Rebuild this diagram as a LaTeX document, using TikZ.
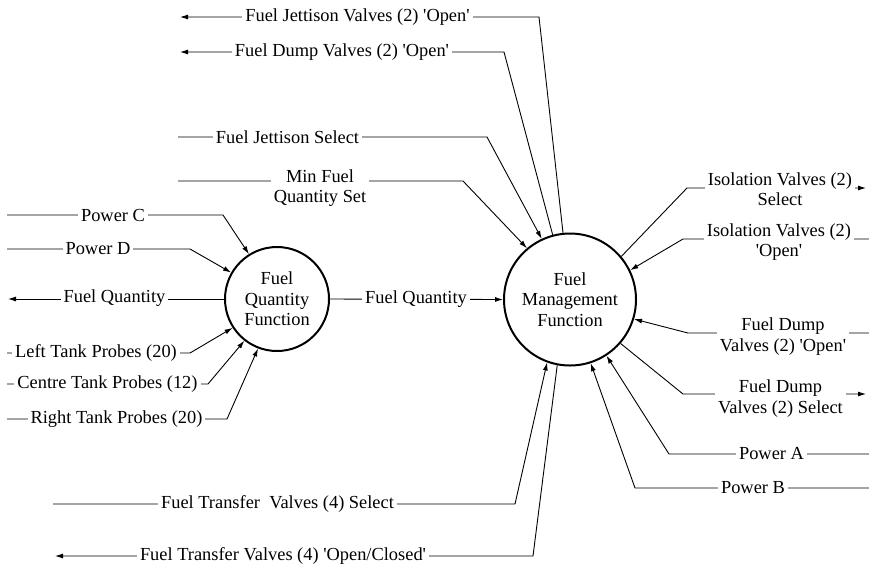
\documentclass[tikz,border=0pt]{standalone}
\usepackage{fontspec}
\setmainfont{Liberation Serif}
\newfontfamily\diagfont{Liberation Serif}
\usetikzlibrary{arrows.meta}
\newcommand{\sq}{\textquotesingle}
\begin{document}
\begin{tikzpicture}[x=1pt,y=-1pt,
  every node/.style={font=\diagfont\fontsize{18.4}{20.5}\selectfont},
  func/.style={circle,draw,line width=2pt,inner sep=0pt,align=center},
  lbl/.style={fill=white,inner xsep=3pt,inner ysep=1pt,align=center},
  flow/.style={line width=0.9pt},
  arr/.style={flow,-{Latex[length=8pt,width=5pt]}}
]
\useasboundingbox (0,0) rectangle (869,566);
% functions
\node[func,minimum size=104pt] (fqf) at (277,299) {Fuel\\Quantity\\Function};
\node[func,minimum size=132pt] (fmf) at (570,299.5) {Fuel\\Management\\Function};

% bend coordinates and free ends
\coordinate (pcL) at (7,215);   \coordinate (pcK) at (223,215);
\coordinate (pdL) at (7,249);   \coordinate (pdK) at (190,249);
\coordinate (fqL) at (8,299);
\coordinate (ltL) at (7,353);   \coordinate (ltK) at (190,353);
\coordinate (ctL) at (7,384);   \coordinate (ctK) at (208,384);
\coordinate (rtL) at (7,419);   \coordinate (rtK) at (227,419);
\coordinate (jvL) at (180,17);  \coordinate (jvK) at (539,17);
\coordinate (dvL) at (180,52);  \coordinate (dvK) at (504,52);
\coordinate (jsL) at (178,137); \coordinate (jsK) at (487,137);
\coordinate (mfL) at (178,181); \coordinate (mfK) at (463,181);
\coordinate (isR) at (866,188); \coordinate (isK) at (687,188);
\coordinate (ioR) at (869,239); \coordinate (ioK) at (683,239);
\coordinate (doR) at (869,333); \coordinate (doK) at (688,333);
\coordinate (dsR) at (866,394); \coordinate (dsK) at (683,394);
\coordinate (paR) at (869,454); \coordinate (paK) at (669,454);
\coordinate (pbR) at (869,488); \coordinate (pbK) at (635,488);
\coordinate (tsL) at (53,504);  \coordinate (tsK) at (515,504);
\coordinate (toL) at (55,556);  \coordinate (toK) at (533,556);

% connectors
\draw[arr] (fqf.east) -- (fmf.west);
\draw[arr] (pcL) -- (pcK) -- (fqf.122.2);
\draw[arr] (pdL) -- (pdK) -- (fqf.150.1);
\draw[arr] (fqf.west) -- (fqL);
\draw[arr] (ltL) -- (ltK) -- (fqf.213.7);
\draw[arr] (ctL) -- (ctK) -- (fqf.232.7);
\draw[arr] (rtL) -- (rtK) -- (fqf.249.2);

\draw[arr] (fmf.96.8) -- (jvK) -- (jvL);
\draw[arr] (fmf.105.1) -- (dvK) -- (dvL);
\draw[arr] (jsL) -- (jsK) -- (fmf.115.6);
\draw[arr] (mfL) -- (mfK) -- (fmf.130.6);

\draw[arr] (fmf.40.4) -- (isK) -- (isR);
\draw[arr] (ioR) -- (ioK) -- (fmf.26.9);
\draw[arr] (doR) -- (doK) -- (fmf.-17.5);
\draw[arr] (fmf.-41) -- (dsK) -- (dsR);
\draw[arr] (paR) -- (paK) -- (fmf.-57.2);
\draw[arr] (pbR) -- (pbK) -- (fmf.-72.5);

\draw[arr] (tsL) -- (tsK) -- (fmf.250.1);
\draw[arr] (fmf.259.6) -- (toK) -- (toL);

% labels
\node[lbl] (l1) at (416,299) {Fuel Quantity};
\node[lbl] (l2) at (113,215) {Power C};
\node[lbl] (l3) at (98,249) {Power D};
\node[lbl] (l4) at (114.5,298) {Fuel Quantity};
\node[lbl] (l5) at (96,353) {Left Tank Probes (20)};
\node[lbl] (l6) at (107.5,384) {Centre Tank Probes (12)};
\node[lbl] (l7) at (116.5,419) {Right Tank Probes (20)};
\node[lbl] (l8) at (357.5,17) {Fuel Jettison Valves (2) \sq Open\sq};
\node[lbl] (l9) at (342,52) {Fuel Dump Valves (2) \sq Open\sq};
\node[lbl] (l10) at (287.5,137) {Fuel Jettison Select};
\node[lbl] (l11) at (320,188) {Min Fuel\\Quantity Set};
\node[lbl] (l12) at (780,189) {Isolation Valves (2)\\Select};
\node[lbl] (l13) at (779,242) {Isolation Valves (2)\\\sq Open\sq};
\node[lbl] (l14) at (783,336.5) {Fuel Dump\\Valves (2) \sq Open\sq};
\node[lbl] (l15) at (780.5,398.5) {Fuel Dump\\Valves (2) Select};
\node[lbl] (l16) at (771.5,454) {Power A};
\node[lbl] (l17) at (753,488) {Power B};
\node[lbl] (l18) at (277.5,504) {Fuel Transfer\ \ Valves (4) Select};
\node[lbl] (l19) at (283,556) {Fuel Transfer Valves (4) \sq Open/Closed\sq};
\end{tikzpicture}
\end{document}
